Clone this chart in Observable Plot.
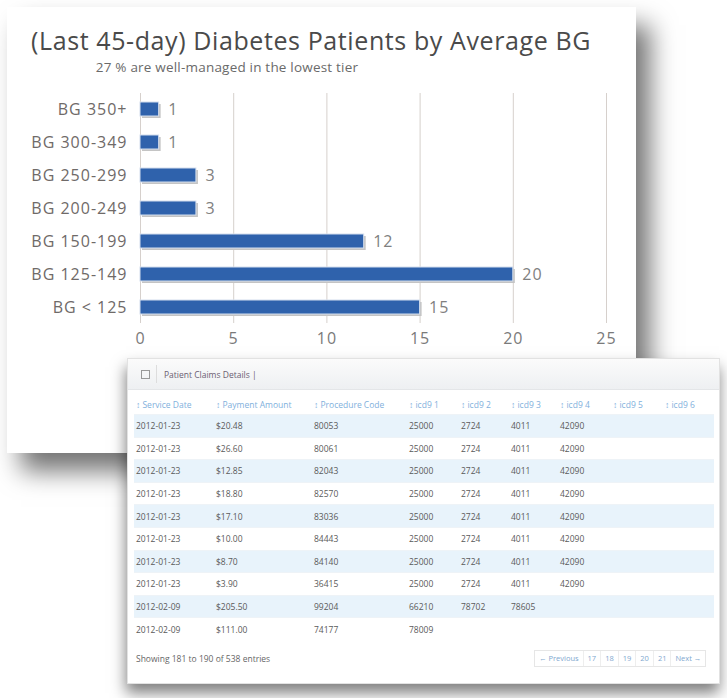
<!DOCTYPE html>
<html>
<head>
<meta charset="utf-8">
<script src="https://cdn.jsdelivr.net/npm/d3@7"></script>
<script src="https://cdn.jsdelivr.net/npm/@observablehq/plot@0.6"></script>
<style>
  html, body { margin: 0; padding: 0; background: #fff; }
  body { width: 727px; height: 698px; position: relative; overflow: hidden; font-family: "Open Sans", sans-serif; }
  #card1 { position: absolute; left: 7px; top: 7px; width: 629px; height: 446px; background: #fff;
           box-shadow: 14px 18px 24px rgba(0,0,0,0.55); z-index: 1; }
  #title { position: absolute; left: 0; top: 28px; width: 622px; text-align: center; z-index: 2; line-height: 1;
           font-size: 25px; color: #4a4a4a; letter-spacing: 0.6px; white-space: nowrap; }
  #subtitle { position: absolute; left: 0; top: 61px; width: 454px; text-align: center; z-index: 2; line-height: 1;
           font-size: 13.5px; color: #6a6a6a; letter-spacing: 0.2px; white-space: nowrap; }
  #chart { position: absolute; left: 0; top: 80px; z-index: 2; }
  #card2 { position: absolute; left: 127px; top: 358px; width: 593px; height: 326px; background: #fff;
           border: 1px solid #e2e2e2; box-sizing: border-box;
           box-shadow: -1px 9px 14px rgba(0,0,0,0.5); z-index: 3; font-size: 8.5px; color: #666; }
  #hdr { position: absolute; left: 0; top: 0; right: 0; height: 30px;
         background: linear-gradient(#fbfbfb, #eef0f2); border-bottom: 1px solid #e4e6e8; }
  #hdr .icon { position: absolute; left: 13px; top: 11px; width: 7px; height: 7px; border: 1px solid #999; }
  #hdr .sep { position: absolute; left: 28px; top: 6px; width: 1px; height: 18px; background: #ddd; }
  #hdr .lbl { position: absolute; left: 36px; top: 10px; color: #6b5e72; font-size: 8.5px; }
  table { position: absolute; left: 6px; top: 35px; border-collapse: collapse; table-layout: fixed; width: 580px; }
  th { color: #7fb0dc; font-weight: normal; text-align: left; height: 20px; padding: 0 0 0 2px; white-space: nowrap; overflow: hidden; }
  td { height: 21.6px; padding: 0 0 0 2px; white-space: nowrap; color: #5a5a5a; border-top: 1px solid #eef3f7; }
  tr.odd td { background: #e8f3fb; }
  #foot { position: absolute; left: 8px; top: 294px; color: #666; }
  #pager { position: absolute; left: 406px; top: 291px; height: 15px; border: 1px solid #e6e6e6; display: flex; white-space: nowrap; }
  #pager span { padding: 0 4px; line-height: 15px; color: #7fa8cf; border-left: 1px solid #eee; font-size: 7.5px; white-space: nowrap; }
  #pager span:first-child { border-left: none; }
</style>
</head>
<body>
<div id="card1"></div>
<div id="title"></div>
<div id="subtitle"></div>
<div id="chart"></div>
<div id="card2">
  <div id="hdr"><div class="icon"></div><div class="sep"></div><div class="lbl">Patient Claims Details |</div></div>
  <table id="tbl"></table>
  <div id="foot"></div>
  <div id="pager"></div>
</div>
<script>
// ---- chart data ----
const tiers = ["BG 350+", "BG 300-349", "BG 250-299", "BG 200-249", "BG 150-199", "BG 125-149", "BG < 125"];
const counts = [1, 1, 3, 3, 12, 20, 15];
const xTicks = [0, 5, 10, 15, 20, 25];
const titleText = "(Last 45-day) Diabetes Patients by Average BG";
const subtitleText = "27 % are well-managed in the lowest tier";

// ---- table data ----
const columns = ["Service Date", "Payment Amount", "Procedure Code", "icd9 1", "icd9 2", "icd9 3", "icd9 4", "icd9 5", "icd9 6"];
const serviceDates = ["2012-01-23", "2012-01-23", "2012-01-23", "2012-01-23", "2012-01-23", "2012-01-23", "2012-01-23", "2012-01-23", "2012-02-09", "2012-02-09"];
const payments = ["$20.48", "$26.60", "$12.85", "$18.80", "$17.10", "$10.00", "$8.70", "$3.90", "$205.50", "$111.00"];
const procedures = ["80053", "80061", "82043", "82570", "83036", "84443", "84140", "36415", "99204", "74177"];
const icd1 = ["25000", "25000", "25000", "25000", "25000", "25000", "25000", "25000", "66210", "78009"];
const icd2 = ["2724", "2724", "2724", "2724", "2724", "2724", "2724", "2724", "78702", ""];
const icd3 = ["4011", "4011", "4011", "4011", "4011", "4011", "4011", "4011", "78605", ""];
const icd4 = ["42090", "42090", "42090", "42090", "42090", "42090", "42090", "42090", "", ""];
const footerText = "Showing 181 to 190 of 538 entries";
const pages = ["\u2190 Previous", "17", "18", "19", "20", "21", "Next \u2192"];

document.getElementById("title").textContent = titleText;
document.getElementById("subtitle").textContent = subtitleText;

const data = tiers.map((t, i) => ({tier: t, count: counts[i]}));

const chart = Plot.plot({
  width: 640,
  height: 280,
  marginLeft: 140,
  marginRight: 34,
  marginTop: 13,
  marginBottom: 37,
  style: {fontFamily: "Open Sans", fontSize: "16px", color: "#777", background: "transparent", letterSpacing: "1px"},
  x: {domain: [0, 25], ticks: xTicks},
  y: {domain: tiers, paddingInner: 0.58, paddingOuter: 0.255, label: null},
  marks: [
    Plot.gridX(xTicks, {stroke: "#d6d0cc", strokeOpacity: 1, strokeWidth: 1}),
    Plot.barX(data, {x: "count", y: "tier", fill: "#c4c4c4", dx: 2, dy: 2}),
    Plot.barX(data, {x: "count", y: "tier", fill: "#2f62ac", stroke: "#d3deee", strokeWidth: 1}),
    Plot.text(data, {x: "count", y: "tier", text: d => String(d.count), textAnchor: "start", dx: 9, fill: "#808080", fontSize: 16}),
    Plot.axisX({ticks: xTicks, tickSize: 0, tickPadding: 9, label: null, fill: "#7a7a7a"}),
    Plot.axisY({tickSize: 0, tickPadding: 13, label: null, fill: "#6f6a68"})
  ]
});
document.getElementById("chart").appendChild(chart);

// ---- table ----
const tbl = document.getElementById("tbl");
const widths = [80, 98, 95, 52, 50, 49, 53, 52, 51];
const colgroup = document.createElement("colgroup");
widths.forEach(w => { const c = document.createElement("col"); c.style.width = w + "px"; colgroup.appendChild(c); });
tbl.appendChild(colgroup);
const thead = document.createElement("tr");
columns.forEach(c => { const th = document.createElement("th"); th.textContent = "\u2195 " + c; thead.appendChild(th); });
tbl.appendChild(thead);
serviceDates.forEach((d, i) => {
  const tr = document.createElement("tr");
  if (i % 2 === 0) tr.className = "odd";
  [d, payments[i], procedures[i], icd1[i], icd2[i], icd3[i], icd4[i], "", ""].forEach(v => {
    const td = document.createElement("td"); td.textContent = v; tr.appendChild(td);
  });
  tbl.appendChild(tr);
});
document.getElementById("foot").textContent = footerText;
const pager = document.getElementById("pager");
pages.forEach(p => { const s = document.createElement("span"); s.textContent = p; pager.appendChild(s); });
</script>
</body>
</html>
